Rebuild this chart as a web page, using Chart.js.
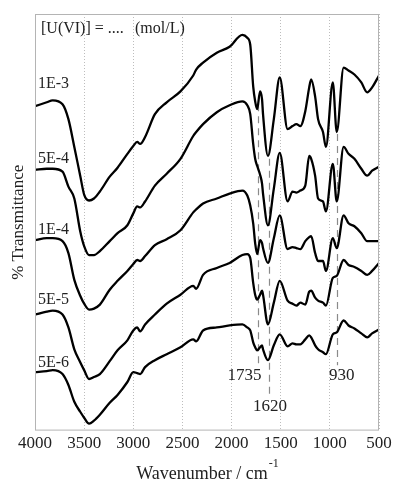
<!DOCTYPE html>
<html>
<head>
<meta charset="utf-8">
<script src="https://cdn.jsdelivr.net/npm/chart.js@4"></script>
<style>
html, body { margin: 0; padding: 0; background: #fff; }
#wrap { width: 398px; height: 484px; }
</style>
</head>
<body>
<div id="wrap"><canvas id="chart"></canvas></div>
<script>
// wavenumber grid (cm-1), shared by all spectra
const wavenumbers = [4000, 3880, 3820, 3720, 3660, 3600, 3540, 3500, 3450, 3400, 3340, 3240, 3160, 3060, 3000, 2960, 2930, 2880, 2780, 2660, 2520, 2390, 2360, 2290, 2150, 2020, 1890, 1840, 1810, 1780, 1760, 1740, 1710, 1690, 1680, 1630, 1570, 1510, 1430, 1380, 1340, 1300, 1250, 1210, 1190, 1150, 1120, 1070, 1040, 970, 930, 860, 810, 750, 680, 620, 570, 500];

// offset transmittance (arbitrary units), one spectrum per concentration
const t1e3 = [327, 331, 333, 329, 314, 286, 257, 238, 232, 234, 241, 256, 265, 279, 287, 291, 289, 296, 319, 331, 342, 358, 364, 371, 381, 387, 399, 396, 389, 347, 332, 324, 342, 334, 319, 277, 314, 356, 304, 307, 309, 307, 322, 346, 354, 337, 314, 301, 286, 351, 301, 366, 363, 359, 351, 341, 346, 358];
const t5e4 = [263, 264, 264, 261, 246, 234, 201, 186, 177, 177, 181, 191, 199, 207, 219, 226, 225, 231, 247, 259, 274, 297, 301, 309, 321, 328, 332, 328, 319, 289, 274, 267, 258, 249, 239, 207, 244, 280, 231, 241, 240, 242, 247, 277, 274, 257, 234, 231, 221, 269, 231, 286, 279, 274, 264, 257, 262, 266];
const t1e4 = [192, 194, 194, 191, 179, 152, 136, 128, 122, 123, 127, 142, 151, 161, 168, 172, 171, 176, 187, 193, 202, 220, 223, 229, 234, 239, 242, 237, 227, 209, 189, 178, 192, 189, 184, 169, 194, 217, 183, 185, 184, 183, 191, 195, 196, 179, 171, 171, 161, 194, 184, 217, 209, 206, 199, 191, 191, 191];
const t5e5 = [117, 120, 121, 117, 104, 82, 69, 61, 52, 54, 57, 70, 81, 91, 101, 104, 100, 107, 117, 128, 137, 146, 143, 157, 164, 169, 177, 178, 174, 149, 137, 132, 137, 141, 137, 107, 129, 151, 131, 128, 126, 129, 127, 140, 141, 134, 131, 129, 126, 154, 156, 172, 167, 165, 161, 157, 161, 169];
const t5e6 = [59, 60, 61, 57, 46, 29, 19, 13, 7, 10, 16, 28, 36, 49, 59, 58, 57, 64, 71, 77, 84, 92, 90, 101, 104, 106, 107, 104, 101, 89, 84, 81, 84, 86, 82, 71, 86, 97, 85, 88, 87, 87, 92, 96, 94, 86, 82, 79, 77, 97, 99, 111, 106, 103, 98, 94, 98, 102];

const seriesNames = ["1E-3", "5E-4", "1E-4", "5E-5", "5E-6"];
const nameLevels = [350, 274, 202, 132, 68];

const bands = [1735, 1620, 930];
const bandLabels = ["1735", "1620", "930"];
const bandTop = [329, 274, 299];
const bandBottom = [66, 34, 66];
const bandLabelLevels = [56, 24, 56];

const xTicks = [4000, 3500, 3000, 2500, 2000, 1500, 1000, 500];

const serif = "'Liberation Serif', 'Times New Roman', serif";

function pts(vals) {
    return wavenumbers.map((w, i) => ({ x: w, y: vals[i] }));
}

const decor = {
    id: "decor",
    beforeDatasetsDraw(chart) {
        const { ctx, scales: { x, y } } = chart;
        ctx.save();
        ctx.strokeStyle = "#8a8a8a";
        ctx.lineWidth = 1.2;
        ctx.setLineDash([7, 5]);
        bands.forEach((b, i) => {
            const px = Math.round(x.getPixelForValue(b)) + 0.5;
            ctx.beginPath();
            ctx.moveTo(px, y.getPixelForValue(bandTop[i]));
            ctx.lineTo(px, y.getPixelForValue(bandBottom[i]));
            ctx.stroke();
        });
        ctx.restore();
    },
    afterDraw(chart) {
        const { ctx, chartArea: a, scales: { x, y } } = chart;
        ctx.save();

        // frame
        ctx.strokeStyle = "#b4b4b4";
        ctx.lineWidth = 1;
        ctx.strokeRect(a.left + 0.5, a.top + 0.5, a.right - a.left - 1, a.bottom - a.top - 1);

        ctx.fillStyle = "#222";
        ctx.textBaseline = "middle";

        // header
        ctx.font = "16px " + serif;
        ctx.textAlign = "left";
        ctx.fillText("[U(VI)] = ....", 41, 29);
        ctx.fillText("(mol/L)", 135, 29);

        // concentration labels
        seriesNames.forEach((n, i) => {
            ctx.fillText(n, 38, y.getPixelForValue(nameLevels[i]));
        });

        // band labels
        ctx.font = "17px " + serif;
        ctx.textAlign = "center";
        const shift = [-13, 1, 5];
        bands.forEach((b, i) => {
            ctx.fillText(bandLabels[i], x.getPixelForValue(b) + shift[i], y.getPixelForValue(bandLabelLevels[i]));
        });

        // x title with superscript
        ctx.textAlign = "left";
        const main = "Wavenumber / cm";
        ctx.font = "18px " + serif;
        const w1 = ctx.measureText(main).width;
        ctx.font = "12px " + serif;
        const w2 = ctx.measureText("-1").width;
        const sx = (a.left + a.right) / 2 - (w1 + w2) / 2;
        ctx.font = "18px " + serif;
        ctx.fillText(main, sx, 474);
        ctx.font = "12px " + serif;
        ctx.fillText("-1", sx + w1 + 1, 464);

        // y title
        ctx.font = "17px " + serif;
        ctx.textAlign = "center";
        ctx.translate(19, (a.top + a.bottom) / 2);
        ctx.rotate(-Math.PI / 2);
        ctx.fillText("% Transmittance", 0, 0);

        ctx.restore();
    }
};

const sets = [t1e3, t5e4, t1e4, t5e5, t5e6].map((vals, i) => ({
    label: seriesNames[i],
    data: pts(vals),
    borderColor: "#000",
    borderWidth: 2.3,
    pointRadius: 0,
    fill: false,
    cubicInterpolationMode: "monotone"
}));

new Chart(document.getElementById("chart"), {
    type: "line",
    data: { datasets: sets },
    options: {
        responsive: true,
        maintainAspectRatio: false,
        animation: false,
        devicePixelRatio: 1,
        layout: { padding: { left: 35, right: 19, top: 14, bottom: 27 } },
        plugins: { legend: { display: false }, tooltip: { enabled: false } },
        scales: {
            x: {
                type: "linear",
                reverse: true,
                min: 500,
                max: 4000,
                afterBuildTicks: s => { s.ticks = xTicks.map(v => ({ value: v })); },
                ticks: {
                    autoSkip: false,
                    maxRotation: 0,
                    padding: 3,
                    color: "#222",
                    font: { family: serif, size: 17 },
                    callback: v => String(v)
                },
                grid: { color: "#bdbdbd", drawTicks: false, lineWidth: 1 },
                border: { display: false, dash: [1, 2] }
            },
            y: { display: false, min: 0, max: 420 }
        }
    },
    plugins: [decor]
});
</script>
</body>
</html>
